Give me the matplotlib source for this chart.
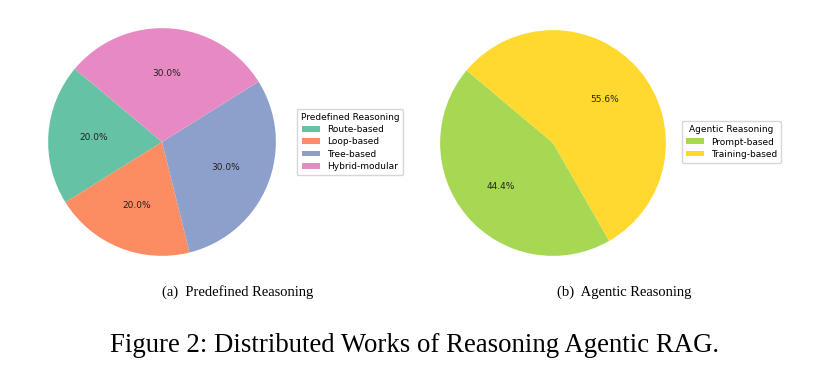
import matplotlib
import matplotlib.pyplot as plt

matplotlib.use("Agg")

# Data
pre_labels = ["Route-based", "Loop-based", "Tree-based", "Hybrid-modular"]
pre_values = [20, 20, 30, 30]
pre_colors = ["#66c2a5", "#fc8d62", "#8da0cb", "#e78ac3"]

agent_labels = ["Prompt-based", "Training-based"]
agent_values = [44.4, 55.6]
agent_colors = ["#a6d854", "#ffd92f"]

W, H = 831, 390
fig = plt.figure(figsize=(W / 100, H / 100), dpi=100)


def px_axes(cx, cy, r):
    # axes box in pixel coords (top-left origin) around a pie centre
    return fig.add_axes([(cx - r) / W, (H - cy - r) / H, 2 * r / W, 2 * r / H])


def draw_pie(ax, values, colors):
    wedges, _, autotexts = ax.pie(values, colors=colors, startangle=140,
                                  autopct="%1.1f%%", pctdistance=0.6,
                                  textprops={"fontsize": 6.5, "color": "#222222"})
    ax.set_xlim(-1.01, 1.01)
    ax.set_ylim(-1.01, 1.01)
    ax.set_aspect("equal")
    ax.axis("off")
    return wedges


legend_kw = dict(loc="center left", fontsize=6.5, title_fontsize=6.5, frameon=True,
                 handlelength=2.0, handleheight=0.6, borderpad=0.45,
                 labelspacing=0.35, fancybox=True)

ax1 = px_axes(162, 142, 115)
w1 = draw_pie(ax1, pre_values, pre_colors)
fig.legend(w1, pre_labels, title="Predefined Reasoning",
           bbox_to_anchor=(292 / W, 1 - 142 / H), **legend_kw)

ax2 = px_axes(553, 143, 114)
w2 = draw_pie(ax2, agent_values, agent_colors)
fig.legend(w2, agent_labels, title="Agentic Reasoning",
           bbox_to_anchor=(677 / W, 1 - 142 / H), **legend_kw)

serif = ["Liberation Serif", "DejaVu Serif"]
fig.text(238 / W, 1 - 292 / H, "(a)  Predefined Reasoning", ha="center", va="center",
         fontsize=10.5, family=serif)
fig.text(624 / W, 1 - 292 / H, "(b)  Agentic Reasoning", ha="center", va="center",
         fontsize=10.5, family=serif)
fig.text(414 / W, 1 - 345 / H, "Figure 2: Distributed Works of Reasoning Agentic RAG.",
         ha="center", va="center", fontsize=19.3, family=serif)

fig.savefig("out.png", dpi=100)
